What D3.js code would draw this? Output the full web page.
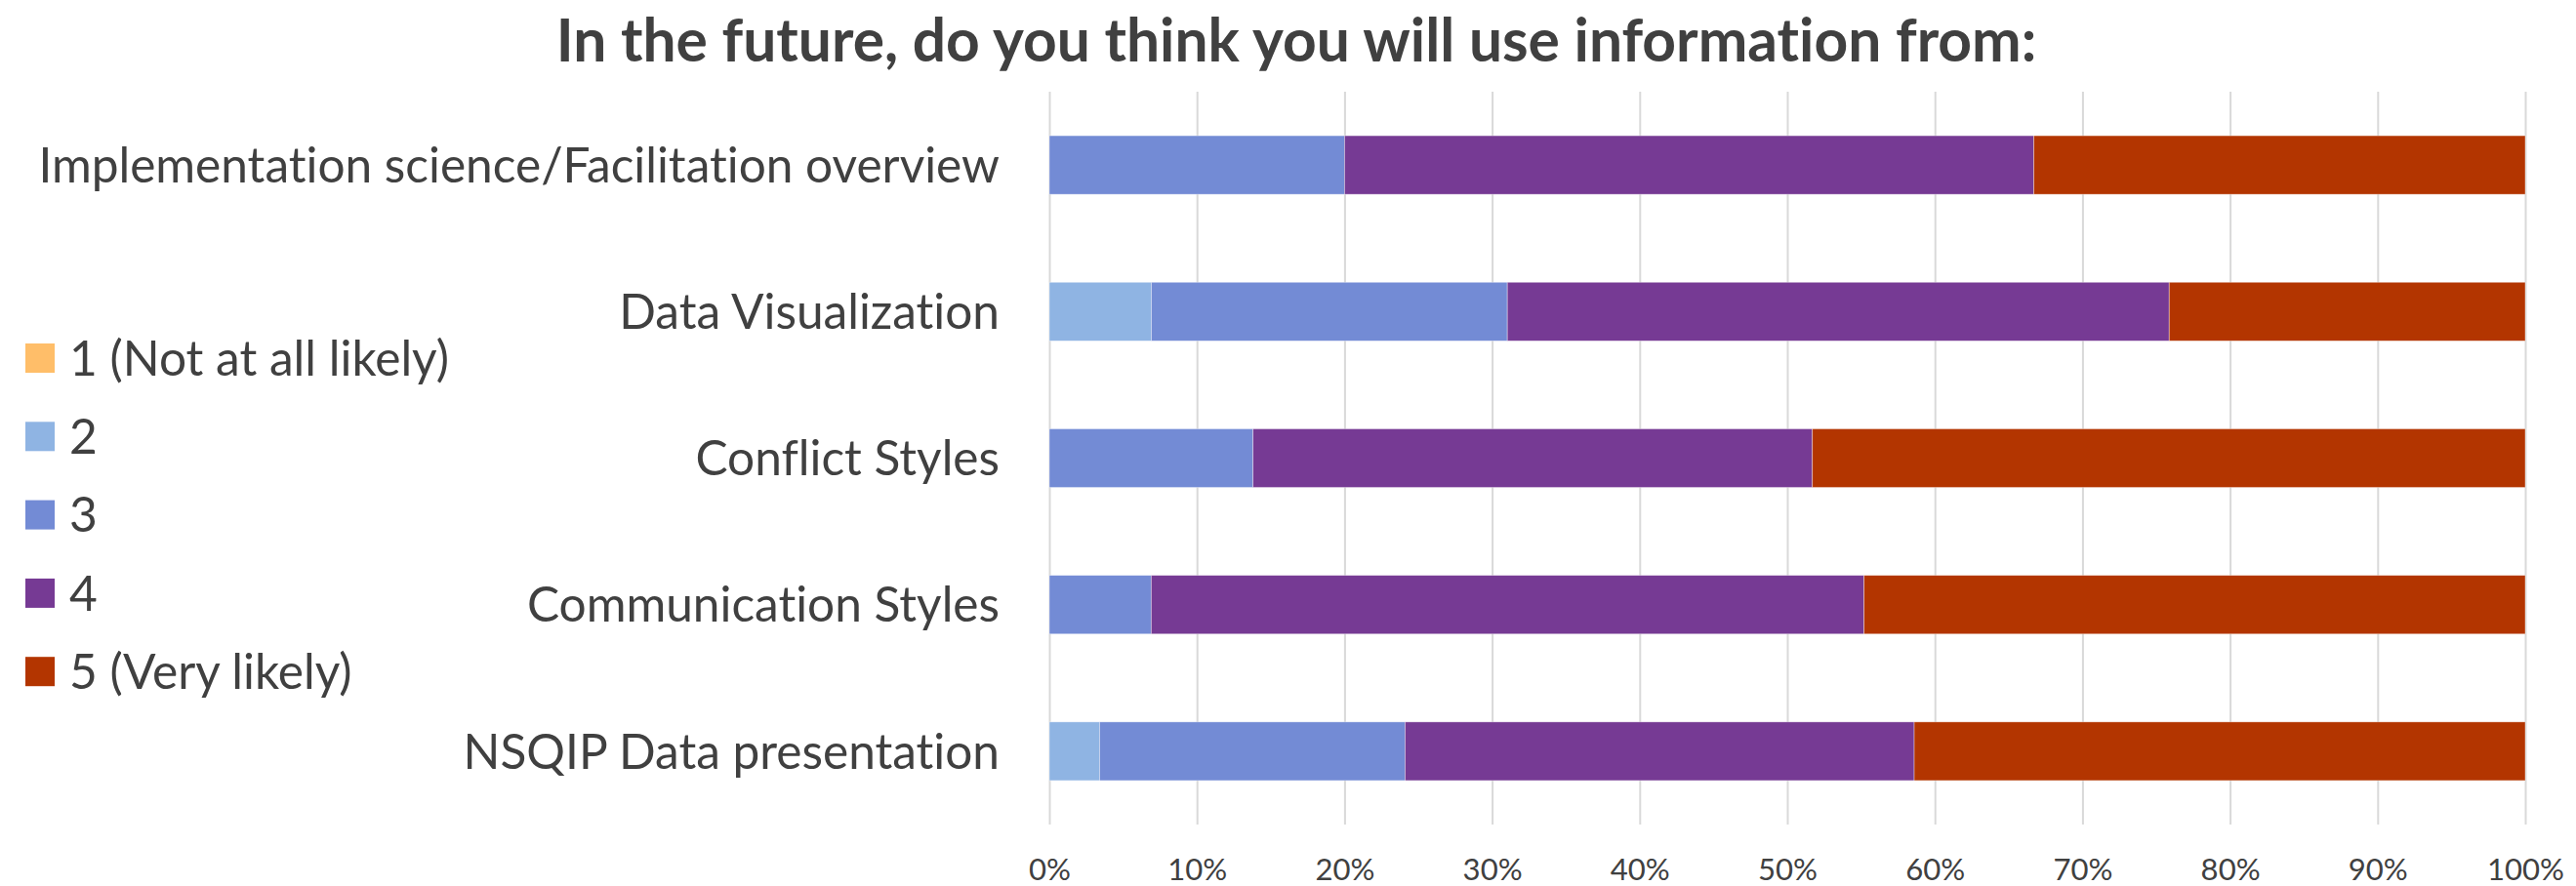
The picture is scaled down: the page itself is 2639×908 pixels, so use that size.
<!DOCTYPE html>
<html>
<head>
<meta charset="utf-8">
<script src="https://d3js.org/d3.v7.min.js"></script>
<style>
  body { margin: 0; background: #fff; }
  text { font-family: Lato, "Open Sans", sans-serif; fill: #404040; font-variant-ligatures: none; font-feature-settings: "liga" 0, "dlig" 0; }
</style>
</head>
<body>
<svg id="chart" width="2639" height="908"></svg>
<script>
// survey answers, share of respondents per category (percent)
var categories = [
    'Implementation science/Facilitation overview',
    'Data Visualization',
    'Conflict Styles',
    'Communication Styles',
    'NSQIP Data presentation'
];
var seriesNames = ['1 (Not at all likely)', '2', '3', '4', '5 (Very likely)'];
var seriesColors = ['#FFBE69', '#8FB4E3', '#738BD5', '#763A94', '#B33500'];
var likely1 = [0, 0, 0, 0, 0];
var likely2 = [0, 6.9, 0, 0, 3.4];
var likely3 = [20.0, 24.1, 13.8, 6.9, 20.7];
var likely4 = [46.7, 44.8, 37.9, 48.3, 34.5];
var likely5 = [33.3, 24.1, 48.3, 44.8, 41.4];
var tickValues = [0, 0.1, 0.2, 0.3, 0.4, 0.5, 0.6, 0.7, 0.8, 0.9, 1];

var series = [likely1, likely2, likely3, likely4, likely5];
var rows = categories.map(function(c, i) {
    var r = {cat: c};
    seriesNames.forEach(function(s, j) { r[s] = series[j][i]; });
    return r;
});

var svg = d3.select('#chart');
var plotTop = 94, plotBottom = 845, plotLeft = 1075, plotRight = 2587;

var x = d3.scaleLinear().domain([0, 1]).range([plotLeft, plotRight]);
var y = d3.scaleBand().domain(categories).range([plotTop, plotBottom]).paddingInner(0.6).paddingOuter(0.3);
var color = d3.scaleOrdinal().domain(seriesNames).range(seriesColors);

// scale a font size so that a sample string gets the wanted width
function fitSize(sample, base, target, weight) {
    var t = svg.append('text').style('font-size', base + 'px').style('font-weight', weight || 'normal').text(sample);
    var w = t.node().getComputedTextLength();
    t.remove();
    return base * target / w;
}
var labelSize = fitSize(categories[0], 53, 985);
var legendSize = fitSize(seriesNames[0], 53, 389);
var tickSize = fitSize('100%', 36, 79);
var titleSize = fitSize('In the future, do you think you will use information from:', 60, 1517, 'bold');

// grid + x axis
var xAxis = svg.append('g')
    .attr('transform', `translate(0,${plotBottom})`)
    .call(d3.axisBottom(x).tickValues(tickValues).tickSize(-(plotBottom - plotTop)).tickFormat(d3.format('.0%')));
xAxis.select('.domain').remove();
xAxis.selectAll('.tick line').attr('stroke', '#d9d9d9').attr('stroke-width', 2);
xAxis.selectAll('.tick text')
    .attr('y', 57).attr('dy', null)
    .style('font-size', tickSize + 'px')
    .style('font-family', 'Lato, sans-serif')
    .attr('fill', '#404040');

// bars
var stacked = d3.stack().keys(seriesNames).offset(d3.stackOffsetExpand)(rows);
svg.append('g').selectAll('g').data(stacked).enter().append('g')
    .attr('fill', function(d) { return color(d.key); })
    .selectAll('rect').data(function(d) { return d; }).enter().append('rect')
    .attr('x', function(d) { return x(d[0]); })
    .attr('width', function(d) { return x(d[1]) - x(d[0]); })
    .attr('y', function(d) { return y(d.data.cat); })
    .attr('height', y.bandwidth())
    .attr('stroke', '#ffffff')
    .attr('stroke-opacity', 0.5)
    .attr('stroke-width', 0.75);

// category labels
svg.append('g').selectAll('text').data(categories).enter().append('text')
    .attr('x', 1024)
    .attr('y', function(d) { return y(d) + y.bandwidth() / 2 + labelSize * 0.355; })
    .attr('text-anchor', 'end')
    .style('font-size', labelSize + 'px')
    .text(function(d) { return d; });

// legend
var legend = svg.append('g').selectAll('g').data(seriesNames).enter().append('g')
    .attr('transform', function(d, i) { return `translate(26,${352 + i * 80.3})`; });
legend.append('rect')
    .attr('width', 30).attr('height', 30)
    .attr('fill', function(d) { return color(d); });
legend.append('text')
    .attr('x', 45)
    .attr('y', 15 + legendSize * 0.355)
    .style('font-size', legendSize + 'px')
    .text(function(d) { return d; });

// title
svg.append('text')
    .attr('x', 1328)
    .attr('y', 63)
    .attr('text-anchor', 'middle')
    .style('font-size', titleSize + 'px')
    .style('font-weight', 'bold')
    .text('In the future, do you think you will use information from:');
</script>
</body>
</html>
